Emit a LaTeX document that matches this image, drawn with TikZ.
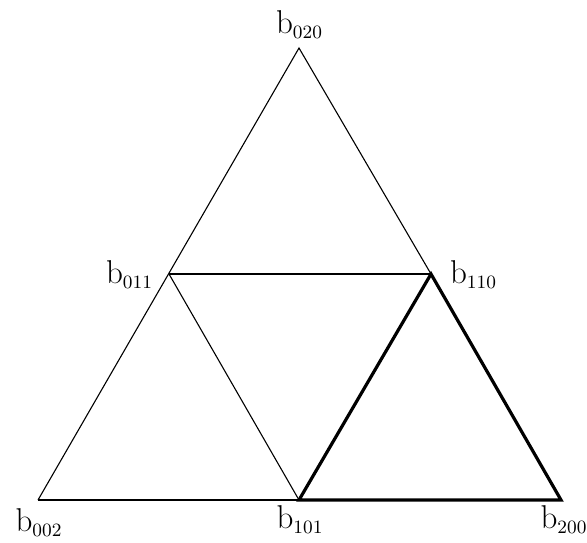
\documentclass[tikz,border=0pt]{standalone}
\usepackage{fontspec}
\newcommand{\lbl}[1]{{\fontsize{16.5}{20}\selectfont b}\raisebox{-2.5pt}{\fontsize{9.4}{10}\selectfont #1}}
\begin{document}
\begin{tikzpicture}[x=0.5pt,y=-0.5pt,
  thinedge/.style={line width=0.55pt},
  thickedge/.style={line width=1.6pt,line join=miter},
  lab/.style={inner sep=0pt,anchor=base}]
\useasboundingbox (0,0) rectangle (587,542);
\coordinate (v020) at (299,48);
\coordinate (v011) at (169,274);
\coordinate (v110) at (431,274);
\coordinate (v002) at (38,500);
\coordinate (v101) at (299,500);
\coordinate (v200) at (561,500);
\draw[thinedge] (v002) -- (v020) -- (v110);
\draw[thinedge] (v002) -- (v101);
\draw[thinedge] (v011) -- (v110);
\draw[thinedge] (v011) -- (v101);
\draw[thickedge] (v101) -- (v110) -- (v200) -- cycle;
\node[lab] (l020) at (299,33) {\lbl{020}};
\node[lab] (l011) at (129,283) {\lbl{011}};
\node[lab] (l110) at (473,283) {\lbl{110}};
\node[lab] (l002) at (38.5,531) {\lbl{002}};
\node[lab] (l101) at (299.5,528) {\lbl{101}};
\node[lab] (l200) at (563.5,528) {\lbl{200}};
\end{tikzpicture}
\end{document}
